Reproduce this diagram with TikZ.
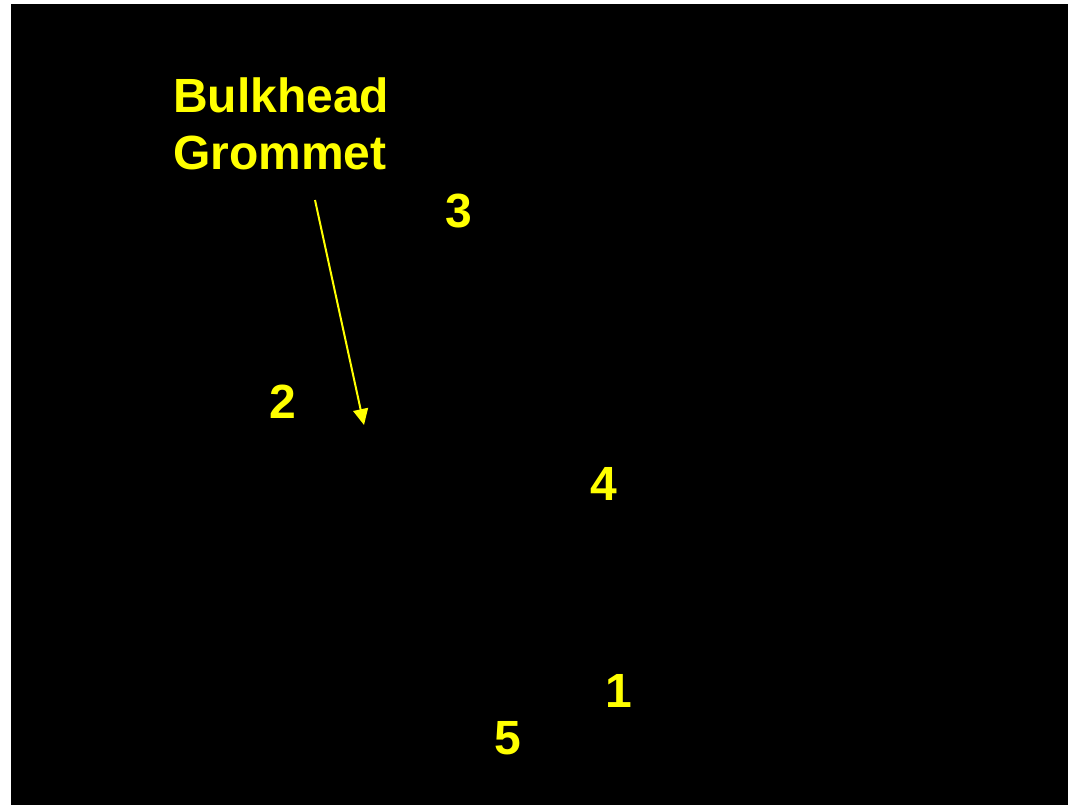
\documentclass[tikz,border=0pt]{standalone}
\usepackage{fontspec}
\setmainfont{Liberation Sans}
\usetikzlibrary{arrows.meta}
\definecolor{labelyellow}{HTML}{FFFF00}
\begin{document}
\begin{tikzpicture}[x=1pt,y=-1pt,
  label text/.style={text=labelyellow, font=\bfseries\fontsize{48}{57}\selectfont, inner sep=0pt, anchor=base},
  pointer/.style={draw=labelyellow, line width=2pt, -{Triangle[width=15pt,length=16pt]}}]
  % page and black panel
  \useasboundingbox (0,0) rectangle (1068,805);
  \fill[white] (0,0) rectangle (1068,805);
  \fill[black] (11,4) rectangle (1068,805);
  % callout (base anchor sits on the last line)
  \node[label text, anchor=base west, align=left] (callout) at (173,170) {Bulkhead\\Grommet};
  \coordinate (tail) at (315,200);
  \coordinate (tip) at (364,425);
  \draw[pointer] (tail) -- (tip);
  % part numbers
  \node[label text] (n3) at (459,227) {3};
  \node[label text] (n2) at (283,418) {2};
  \node[label text] (n4) at (604,500) {4};
  \node[label text] (n1) at (619,707) {1};
  \node[label text] (n5) at (508,754) {5};
\end{tikzpicture}
\end{document}
